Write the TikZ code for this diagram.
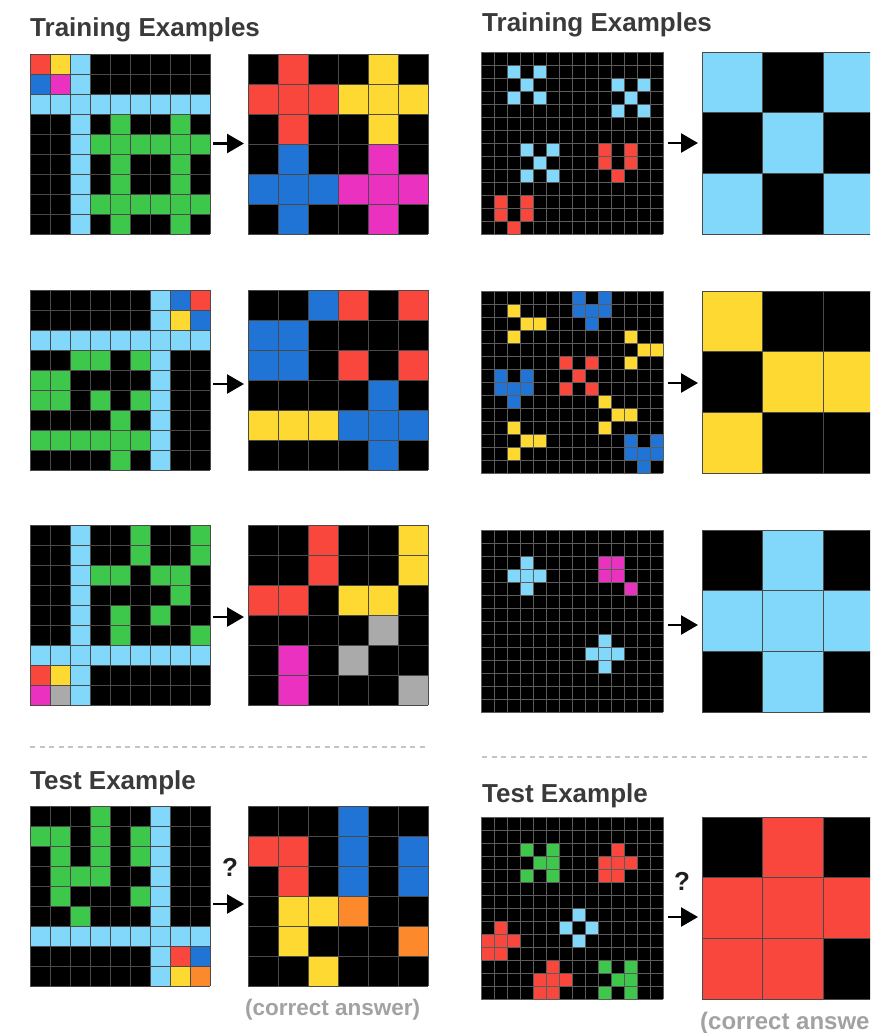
\documentclass[tikz,border=0pt]{standalone}
\usepackage{fontspec}
\setmainfont{Liberation Sans}
\usetikzlibrary{arrows.meta}
\definecolor{cK}{HTML}{000000}
\definecolor{cR}{HTML}{F9473D}
\definecolor{cY}{HTML}{FED932}
\definecolor{cL}{HTML}{81D8FA}
\definecolor{cB}{HTML}{1F74D6}
\definecolor{cM}{HTML}{EA31BF}
\definecolor{cG}{HTML}{3DC84B}
\definecolor{cA}{HTML}{AAAAAA}
\definecolor{cO}{HTML}{FC8A2C}
\definecolor{gridc}{HTML}{4A4A4A}
\definecolor{gridd}{HTML}{5C5C5C}
\definecolor{titlec}{HTML}{3A3A3A}
\definecolor{ansc}{HTML}{A2A2A2}
\definecolor{sepc}{HTML}{C4C4C4}
\tikzset{
  gl/.style={draw=gridc, line width=0.8pt},
  gls/.style={draw=gridd, line width=0.6pt},
  arr/.style={line width=2.6pt, draw=black, -{Triangle[length=17pt,width=19pt]}},
  title/.style={anchor=base west, font=\bfseries\fontsize{26}{30}\selectfont, text=titlec, inner sep=0pt},
  qmark/.style={font=\bfseries\fontsize{26}{30}\selectfont, text=black!88, inner sep=0pt},
  ans/.style={anchor=base west, font=\bfseries\fontsize{22.5}{26}\selectfont, text=ansc, inner sep=0pt},
  sepline/.style={draw=sepc, line width=1.5pt, dash pattern=on 5pt off 4.5pt},
}
\newcommand\ArcRows[4]{%
  \foreach \rowd [count=\rr from 0] in {#4} {%
    \foreach \cc [count=\kk from 0] in \rowd {%
      \fill[fill=c\cc] ({#1+\kk*#3},{#2+\rr*#3}) rectangle ++(#3,#3);
    }}}
\newcommand\ArcBlack[4]{\fill[cK] (#1,#2) rectangle ++({#3*#4},{#3*#4});}
\newcommand\ArcCells[4]{%
  \foreach \rr/\kk/\cc in {#4} {%
    \fill[fill=c\cc] ({#1+\kk*#3},{#2+\rr*#3}) rectangle ++(#3,#3);}}
\newcommand\ArcLines[5]{%
  \foreach \ii in {0,...,#3} {%
    \draw[#5] ({#1+\ii*#4},#2) -- ++(0,{#3*#4});
    \draw[#5] (#1,{#2+\ii*#4}) -- ++({#3*#4},0);
  }}
\begin{document}
\begin{tikzpicture}[x=1pt,y=-1pt]
\useasboundingbox (0,0) rectangle (870,1033);
\clip (0,0) rectangle (870,1033);
\fill[white] (0,0) rectangle (870,1033);

% ---------- titles ----------
\node[title] (tl) at (30,37) {Training Examples};
\node[title] (tr) at (482,32) {Training Examples};
\node[title] (tel) at (30,789) {Test Example};
\node[title] (ter) at (482,802) {Test Example};
\coordinate (sl1) at (30,747); \coordinate (sl2) at (428,747);
\coordinate (sr1) at (482,757); \coordinate (sr2) at (870,757);
\draw[sepline] (sl1) -- (sl2);
\draw[sepline] (sr1) -- (sr2);

% ---------- left column ----------
% row 1
\ArcRows{30}{54}{20}{{R,Y,L,K,K,K,K,K,K},{B,M,L,K,K,K,K,K,K},{L,L,L,L,L,L,L,L,L},{K,K,L,K,G,K,K,G,K},{K,K,L,G,G,G,G,G,G},{K,K,L,K,G,K,K,G,K},{K,K,L,K,G,K,K,G,K},{K,K,L,G,G,G,G,G,G},{K,K,L,K,G,K,K,G,K}}
\ArcLines{30}{54}{9}{20}{gl}
\ArcRows{248}{54}{30}{{K,R,K,K,Y,K},{R,R,R,Y,Y,Y},{K,R,K,K,Y,K},{K,B,K,K,M,K},{B,B,B,M,M,M},{K,B,K,K,M,K}}
\ArcLines{248}{54}{6}{30}{gl}
% row 2
\ArcRows{30}{290}{20}{{K,K,K,K,K,K,L,B,R},{K,K,K,K,K,K,L,Y,B},{L,L,L,L,L,L,L,L,L},{K,K,G,G,K,G,L,K,K},{G,G,K,K,K,K,L,K,K},{G,G,K,G,K,G,L,K,K},{K,K,K,K,G,K,L,K,K},{G,G,G,G,G,G,L,K,K},{K,K,K,K,G,K,L,K,K}}
\ArcLines{30}{290}{9}{20}{gl}
\ArcRows{248}{290}{30}{{K,K,B,R,K,R},{B,B,K,K,K,K},{B,B,K,R,K,R},{K,K,K,K,B,K},{Y,Y,Y,B,B,B},{K,K,K,K,B,K}}
\ArcLines{248}{290}{6}{30}{gl}
% row 3
\ArcRows{30}{525}{20}{{K,K,L,K,K,G,K,K,G},{K,K,L,K,K,G,K,K,G},{K,K,L,G,G,K,G,G,K},{K,K,L,K,K,K,K,G,K},{K,K,L,K,G,K,G,K,K},{K,K,L,K,G,K,K,K,G},{L,L,L,L,L,L,L,L,L},{R,Y,L,K,K,K,K,K,K},{M,A,L,K,K,K,K,K,K}}
\ArcLines{30}{525}{9}{20}{gl}
\ArcRows{248}{525}{30}{{K,K,R,K,K,Y},{K,K,R,K,K,Y},{R,R,K,Y,Y,K},{K,K,K,K,A,K},{K,M,K,A,K,K},{K,M,K,K,K,A}}
\ArcLines{248}{525}{6}{30}{gl}
% row 4 (test)
\ArcRows{30}{806}{20}{{K,K,K,G,K,K,L,K,K},{G,G,K,G,K,G,L,K,K},{K,G,K,G,K,G,L,K,K},{K,G,G,G,K,K,L,K,K},{K,G,K,K,K,G,L,K,K},{K,K,G,K,K,K,L,K,K},{L,L,L,L,L,L,L,L,L},{K,K,K,K,K,K,L,R,B},{K,K,K,K,K,K,L,Y,O}}
\ArcLines{30}{806}{9}{20}{gl}
\ArcRows{248}{806}{30}{{K,K,K,B,K,K},{R,R,K,B,K,B},{K,R,K,B,K,B},{K,Y,Y,O,K,K},{K,Y,K,K,K,O},{K,K,Y,K,K,K}}
\ArcLines{248}{806}{6}{30}{gl}

% left arrows
\coordinate (la1s) at (213,143.5); \coordinate (la1e) at (244,143.5);
\coordinate (la2s) at (213,384); \coordinate (la2e) at (244,384);
\coordinate (la3s) at (213,617); \coordinate (la3e) at (244,617);
\coordinate (la4s) at (213,904); \coordinate (la4e) at (244,904);
\draw[arr] (la1s) -- (la1e);
\draw[arr] (la2s) -- (la2e);
\draw[arr] (la3s) -- (la3e);
\draw[arr] (la4s) -- (la4e);
\node[qmark] (ql) at (230,867) {?};
\node[ans] (al) at (245,1015) {(correct answer)};

% ---------- right column ----------
% row 1
\ArcBlack{481}{52}{14}{13}
\ArcCells{481}{52}{13}{1/2/L,1/4/L,2/3/L,3/2/L,3/4/L, 2/10/L,2/12/L,3/11/L,4/10/L,4/12/L, 7/3/L,7/5/L,8/4/L,9/3/L,9/5/L, 7/9/R,8/9/R,7/11/R,8/11/R,9/10/R, 11/1/R,12/1/R,11/3/R,12/3/R,13/2/R}
\ArcLines{481}{52}{14}{13}{gls}
\ArcRows{702}{52}{60.67}{{L,K,L},{K,L,K},{L,K,L}}
\ArcLines{702}{52}{3}{60.67}{gl}
% row 2
\ArcBlack{481}{291}{14}{13}
\ArcCells{481}{291}{13}{1/2/Y,2/3/Y,2/4/Y,3/2/Y, 3/11/Y,4/12/Y,4/13/Y,5/11/Y, 8/9/Y,9/10/Y,9/11/Y,10/9/Y, 10/2/Y,11/3/Y,11/4/Y,12/2/Y, 0/7/B,0/9/B,1/7/B,1/8/B,1/9/B,2/8/B, 6/1/B,6/3/B,7/1/B,7/2/B,7/3/B,8/2/B, 11/11/B,11/13/B,12/11/B,12/12/B,12/13/B,13/12/B, 5/6/R,5/8/R,6/7/R,7/6/R,7/8/R}
\ArcLines{481}{291}{14}{13}{gls}
\ArcRows{702}{291}{60.67}{{Y,K,K},{K,Y,Y},{Y,K,K}}
\ArcLines{702}{291}{3}{60.67}{gl}
% row 3
\ArcBlack{481}{530}{14}{13}
\ArcCells{481}{530}{13}{2/3/L,3/2/L,3/3/L,3/4/L,4/3/L, 8/9/L,9/8/L,9/9/L,9/10/L,10/9/L, 2/9/M,2/10/M,3/9/M,3/10/M,4/11/M}
\ArcLines{481}{530}{14}{13}{gls}
\ArcRows{702}{530}{60.67}{{K,L,K},{L,L,L},{K,L,K}}
\ArcLines{702}{530}{3}{60.67}{gl}
% row 4 (test)
\ArcBlack{481}{817}{14}{13}
\ArcCells{481}{817}{13}{2/3/G,2/5/G,3/4/G,3/5/G,4/3/G,4/5/G, 11/9/G,11/11/G,12/10/G,12/11/G,13/9/G,13/11/G, 2/10/R,3/9/R,3/10/R,3/11/R,4/9/R,4/10/R, 8/1/R,9/0/R,9/1/R,9/2/R,10/0/R,10/1/R, 11/5/R,12/4/R,12/5/R,12/6/R,13/4/R,13/5/R, 7/7/L,8/6/L,8/8/L,9/7/L}
\ArcLines{481}{817}{14}{13}{gls}
\ArcRows{702}{817}{60.67}{{K,R,K},{R,R,R},{R,R,K}}
\ArcLines{702}{817}{3}{60.67}{gl}

% right arrows
\coordinate (ra1s) at (668,143); \coordinate (ra1e) at (698,143);
\coordinate (ra2s) at (668,383); \coordinate (ra2e) at (698,383);
\coordinate (ra3s) at (668,625); \coordinate (ra3e) at (698,625);
\coordinate (ra4s) at (668,917); \coordinate (ra4e) at (698,917);
\draw[arr] (ra1s) -- (ra1e);
\draw[arr] (ra2s) -- (ra2e);
\draw[arr] (ra3s) -- (ra3e);
\draw[arr] (ra4s) -- (ra4e);
\node[qmark] (qr) at (682,881) {?};
\node[ans, font=\bfseries\fontsize{24}{28}\selectfont] (ar) at (700,1029) {(correct answer)};
\end{tikzpicture}
\end{document}
